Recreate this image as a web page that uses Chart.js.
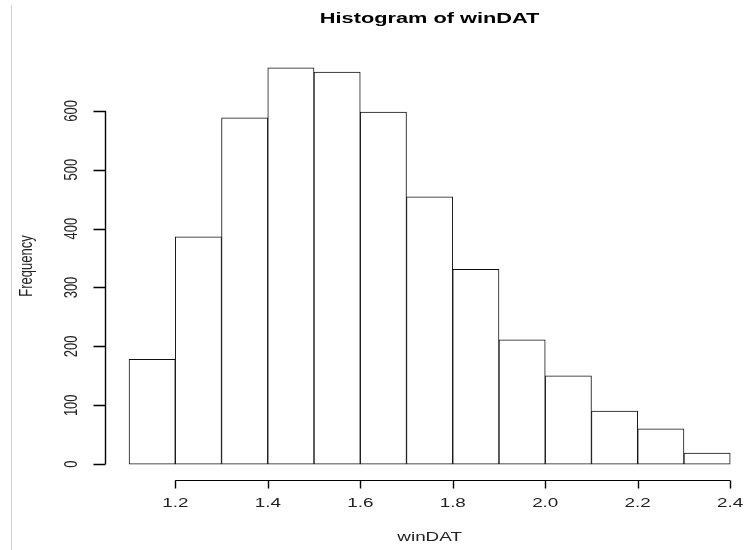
<!DOCTYPE html>
<html>
<head>
<meta charset="utf-8">
<script src="https://cdn.jsdelivr.net/npm/chart.js@4/dist/chart.umd.min.js"></script>
<style>
  html, body { margin: 0; padding: 0; background: #fff; overflow: hidden; }
  #wrap { position: relative; width: 745px; height: 550px; }
  #frame { position: absolute; left: 11px; top: 5px; width: 0; height: 545px; border-left: 1px solid #d0d0d0; }
</style>
</head>
<body>
<div id="wrap">
  <div id="frame"></div>
  <canvas id="hist"></canvas>
</div>
<script>
// histogram bins (edges) and counts
const binEdges = [1.1, 1.2, 1.3, 1.4, 1.5, 1.6, 1.7, 1.8, 1.9, 2.0, 2.1, 2.2, 2.3, 2.4];
const counts = [178, 386, 588, 673, 666, 598, 454, 331, 211, 150, 90, 60, 19];
const xTicks = [1.2, 1.4, 1.6, 1.8, 2.0, 2.2, 2.4];
const yTicks = [0, 100, 200, 300, 400, 500, 600];

const titleText = 'Histogram of winDAT';
const xLabel = 'winDAT';
const yLabel = 'Frequency';

const FONT = "'Liberation Sans', Arial, sans-serif";
const STRETCH = 1.45; // the screenshot is stretched sideways

const bars = counts.map((c, i) => ({ x: (binEdges[i] + binEdges[i + 1]) / 2, y: c }));

// draw text stretched like the original screenshot
function stretchedText(ctx, txt, x, y, font, rot) {
    ctx.save();
    ctx.translate(x, y);
    ctx.scale(STRETCH, 1);
    if (rot) ctx.rotate(rot);
    ctx.font = font;
    ctx.textAlign = 'center';
    ctx.textBaseline = 'middle';
    ctx.fillText(txt, 0, 0);
    ctx.restore();
}

// R style axes: lines only span the tick range, ticks point outwards
const rAxes = {
    id: 'rAxes',
    afterDraw(chart) {
        const ctx = chart.ctx;
        const xs = chart.scales.x, ys = chart.scales.y;
        const area = chart.chartArea;
        ctx.save();
        ctx.strokeStyle = '#000';
        ctx.fillStyle = '#222';
        ctx.lineWidth = 1.4;

        // y axis
        const ax = Math.round(area.left) + 0.5;
        ctx.beginPath();
        ctx.moveTo(ax, ys.getPixelForValue(yTicks[0]));
        ctx.lineTo(ax, ys.getPixelForValue(yTicks[yTicks.length - 1]));
        yTicks.forEach(v => {
            const py = Math.round(ys.getPixelForValue(v)) + 0.5;
            ctx.moveTo(ax, py);
            ctx.lineTo(ax - 12, py);
        });
        ctx.stroke();
        yTicks.forEach(v => {
            stretchedText(ctx, String(v), ax - 34, ys.getPixelForValue(v), '13px ' + FONT, -Math.PI / 2);
        });

        // x axis
        ctx.lineWidth = 1;
        const ay = Math.round(area.bottom) + 0.5;
        ctx.beginPath();
        ctx.moveTo(xs.getPixelForValue(xTicks[0]), ay);
        ctx.lineTo(xs.getPixelForValue(xTicks[xTicks.length - 1]), ay);
        ctx.stroke();
        ctx.lineWidth = 1.4;
        ctx.beginPath();
        xTicks.forEach(v => {
            const px = Math.round(xs.getPixelForValue(v)) + 0.5;
            ctx.moveTo(px, ay);
            ctx.lineTo(px, ay + 8);
        });
        ctx.stroke();
        xTicks.forEach(v => {
            stretchedText(ctx, v.toFixed(1), xs.getPixelForValue(v), ay + 23, '13px ' + FONT);
        });

        // titles
        const cx = xs.getPixelForValue((xs.min + 2.452) / 2);
        const cy = (area.top + area.bottom) / 2;
        ctx.fillStyle = '#000';
        stretchedText(ctx, titleText, cx, 19, 'bold 15px ' + FONT);
        ctx.fillStyle = '#222';
        stretchedText(ctx, xLabel, cx, 537, '13px ' + FONT);
        stretchedText(ctx, yLabel, 27, cy, '13px ' + FONT, -Math.PI / 2);
        ctx.restore();
    }
};

new Chart(document.getElementById('hist'), {
    type: 'bar',
    data: {
        datasets: [{
            data: bars,
            backgroundColor: '#fff',
            borderColor: '#111',
            borderWidth: 1,
            borderSkipped: false,
            barPercentage: 1,
            categoryPercentage: 1
        }]
    },
    options: {
        responsive: true,
        maintainAspectRatio: false,
        animation: false,
        layout: { padding: { left: 105, right: 0, top: 52, bottom: 70 } },
        scales: {
            x: { type: 'linear', min: 1.048, max: 2.432, offset: false, display: false },
            y: { min: -26.9, max: 699.9, display: false }
        },
        plugins: { legend: { display: false }, tooltip: { enabled: false } }
    },
    plugins: [rAxes]
});
</script>
</body>
</html>
